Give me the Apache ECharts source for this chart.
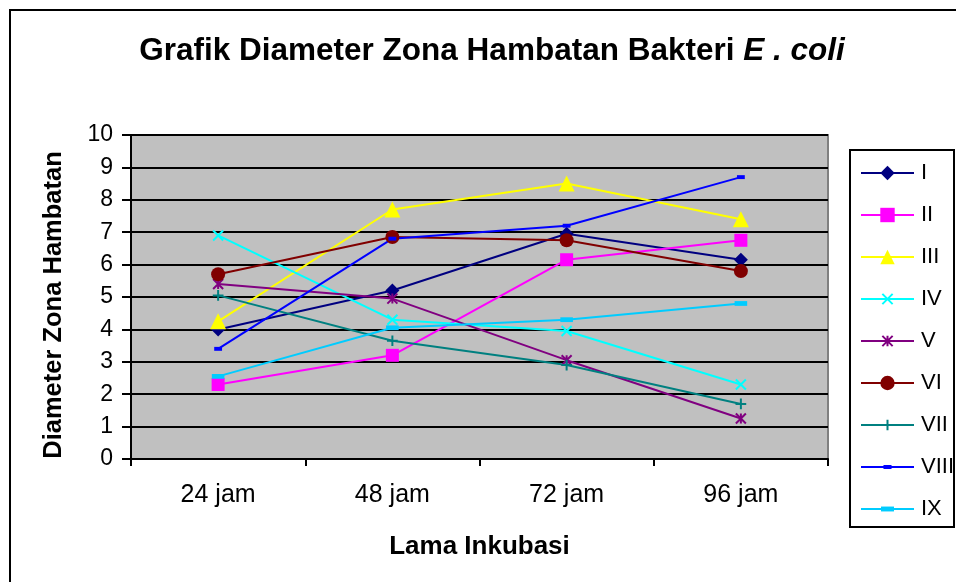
<!DOCTYPE html>
<html>
<head>
<meta charset="utf-8">
<script src="https://cdn.jsdelivr.net/npm/echarts@6/dist/echarts.min.js"></script>
<style>
html,body{margin:0;padding:0;background:#fff;}
#c{width:956px;height:582px;}
</style>
</head>
<body>
<div id="c"></div>
<script>
const categories = ['24 jam', '48 jam', '72 jam', '96 jam'];
const seriesNames = ['I', 'II', 'III', 'IV', 'V', 'VI', 'VII', 'VIII', 'IX'];
const valI    = [4.0, 5.2, 6.95, 6.15];
const valII   = [2.3, 3.2, 6.15, 6.75];
const valIII  = [4.25, 7.7, 8.5, 7.4];
const valIV   = [6.9, 4.3, 3.95, 2.3];
const valV    = [5.4, 4.95, 3.05, 1.25];
const valVI   = [5.7, 6.85, 6.75, 5.8];
const valVII  = [5.05, 3.65, 2.9, 1.7];
const valVIII = [3.4, 6.8, 7.2, 8.7];
const valIX   = [2.55, 4.05, 4.3, 4.8];
const yTicks = [0,1,2,3,4,5,6,7,8,9,10];

const values = [valI, valII, valIII, valIV, valV, valVI, valVII, valVIII, valIX];
const colors = ['#000080','#FF00FF','#FFFF00','#00FFFF','#800080','#800000','#008080','#0000FF','#00CCFF'];
const symbols = [
  'diamond',
  'rect',
  'triangle',
  'path://M-2,-2M12,12M0,0L10,10M10,0L0,10',
  'path://M-2,-2M12,12M0,0L10,10M10,0L0,10M5,0L5,10',
  'circle',
  'path://M-2,-2M12,12M5,0L5,10M0,5L10,5',
  'path://M0,0M10,10M2.2,3.6L7.8,3.6L7.8,6.4L2.2,6.4Z',
  'path://M0,0M10,10M0.5,3.3L9.5,3.3L9.5,6.7L0.5,6.7Z'
];
const sizes = [14, 13, 16, 14, 14, 14, 15, 14, 14];

const font = 'Liberation Sans, Arial, sans-serif';
const chart = echarts.init(document.getElementById('c'), null, {renderer:'canvas'});

const series = seriesNames.map((n,i)=>({
  name:n,
  type:'line',
  data: values[i],
  symbol: symbols[i],
  symbolSize: sizes[i],
  showSymbol:true,
  lineStyle:{color:colors[i], width:2},
  itemStyle:{color:colors[i], borderColor:colors[i], borderWidth: (i===3||i===4||i===6)?2:0},
  emphasis:{disabled:true},
  animation:false
}));

chart.setOption({
  animation:false,
  backgroundColor:'#ffffff',
  title:{
    text:'Grafik Diameter Zona Hambatan Bakteri {it|E . coli}',
    left:487, top:30, textAlign:'center',
    textStyle:{fontFamily:font, fontSize:31.5, fontWeight:'bold', color:'#000',
      rich:{it:{fontFamily:font, fontSize:31.5, fontWeight:'bold', fontStyle:'italic', color:'#000'}}}
  },
  grid:{left:131, top:135, width:697, height:324, show:true, backgroundColor:'#c0c0c0', borderColor:'#808080', borderWidth:2},
  legend:{
    orient:'vertical', left:860, top:162, padding:0, itemWidth:53, itemHeight:18, itemGap:20,
    textStyle:{fontFamily:font, fontSize:22, color:'#000', padding:[0,0,0,2]},
    data:seriesNames
  },
  graphic:[
    {type:'rect', shape:{x:10, y:10, width:980, height:620}, style:{fill:'none', stroke:'#000', lineWidth:2}, silent:true},
    {type:'rect', shape:{x:850, y:150, width:104, height:377}, style:{fill:'#fff', stroke:'#000', lineWidth:2}, silent:true, z:-1}
  ],
  xAxis:{
    type:'category', data:categories, boundaryGap:true,
    axisLine:{lineStyle:{color:'#000', width:2}},
    axisTick:{show:true, length:7, lineStyle:{color:'#000', width:2}},
    axisLabel:{fontFamily:font, fontSize:25, color:'#000', margin:24},
    name:'Lama Inkubasi', nameLocation:'middle', nameGap:75,
    nameTextStyle:{fontFamily:font, fontSize:26, fontWeight:'bold', color:'#000'}
  },
  yAxis:{
    type:'value', min:0, max:10, interval:1,
    axisLine:{show:true, lineStyle:{color:'#000', width:2}},
    axisTick:{show:true, length:9, lineStyle:{color:'#000', width:2}},
    axisLabel:{fontFamily:font, fontSize:23, color:'#000', margin:18,
      formatter:(v)=> yTicks.includes(v) ? String(v) : ''},
    splitLine:{show:true, lineStyle:{color:'#000', width:2}},
    name:'Diameter Zona Hambatan', nameLocation:'middle', nameGap:64, nameRotate:90,
    nameTextStyle:{fontFamily:font, fontSize:25.5, fontWeight:'bold', color:'#000', padding:[0,16,0,0]}
  },
  series: series
});
</script>
</body>
</html>
